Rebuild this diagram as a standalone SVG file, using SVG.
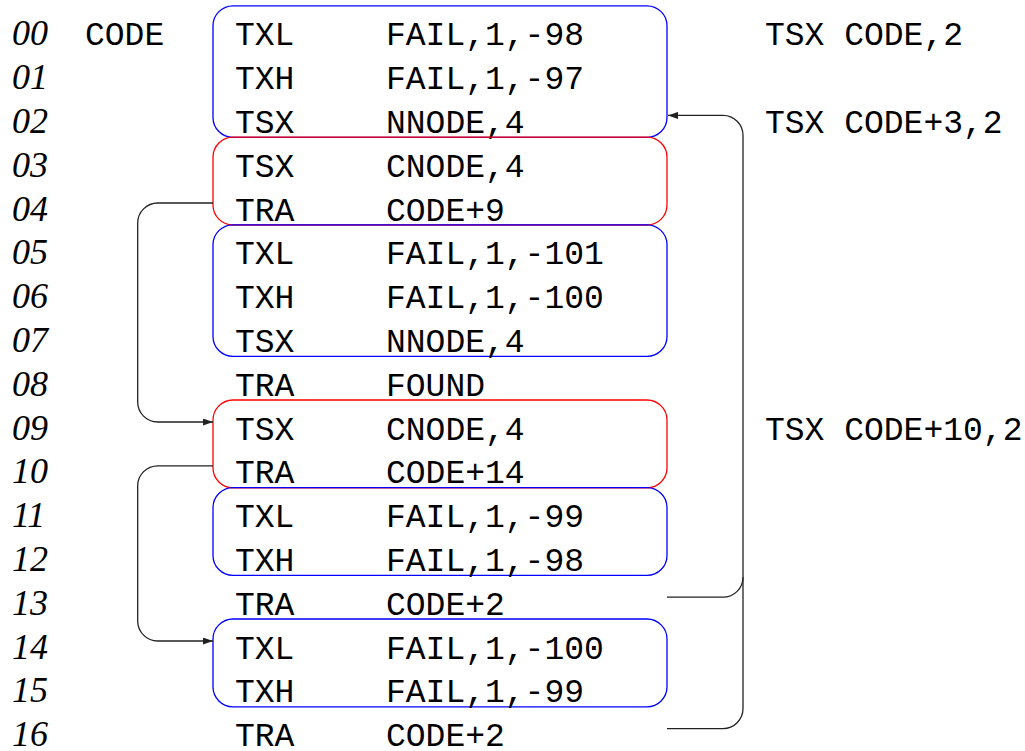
<svg xmlns="http://www.w3.org/2000/svg" width="1025" height="751" viewBox="0 0 1025 751">
  <style>
    .num { font-family: "Liberation Serif", serif; font-style: italic; font-size: 36px; fill: #000; }
    .tt { font-family: "Liberation Mono", monospace; font-size: 33px; fill: #000; }
    .blue { fill: none; stroke: #0000ff; stroke-width: 1.3; }
    .red { fill: none; stroke: #ff0000; stroke-width: 1.3; }
    .link { fill: none; stroke: #222; stroke-width: 1.3; }
  </style>
  <defs>
    <marker id="arrow" markerUnits="userSpaceOnUse" markerWidth="10" markerHeight="7" refX="10" refY="3.5" orient="auto">
      <path d="M0,0 L10,3.5 L0,7 z" fill="#222"/>
    </marker>
  </defs>
  <rect width="1025" height="751" fill="#fff"/>

  <!-- line numbers -->
  <g id="line-numbers" class="num">
    <text x="12" y="45.3">00</text>
    <text x="12" y="89.1">01</text>
    <text x="12" y="132.9">02</text>
    <text x="12" y="176.7">03</text>
    <text x="12" y="220.5">04</text>
    <text x="12" y="264.3">05</text>
    <text x="12" y="308.1">06</text>
    <text x="12" y="351.9">07</text>
    <text x="12" y="395.7">08</text>
    <text x="12" y="439.5">09</text>
    <text x="12" y="483.3">10</text>
    <text x="12" y="527.1">11</text>
    <text x="12" y="570.9">12</text>
    <text x="12" y="614.7">13</text>
    <text x="12" y="658.5">14</text>
    <text x="12" y="702.3">15</text>
    <text x="12" y="746">16</text>
  </g>

  <!-- label -->
  <g id="label-code" class="tt">
    <text x="85" y="45.3">CODE</text>
  </g>

  <!-- block 00-02 -->
  <g id="block-00">
    <rect class="blue" x="213" y="5.8" width="454" height="131.6" rx="20"/>
    <g class="tt">
      <text x="235" y="45.3">TXL</text><text x="386" y="45.3">FAIL,1,-98</text>
      <text x="235" y="89.1">TXH</text><text x="386" y="89.1">FAIL,1,-97</text>
      <text x="235" y="132.9">TSX</text><text x="386" y="132.9">NNODE,4</text>
    </g>
  </g>

  <!-- block 03-04 -->
  <g id="block-03">
    <rect class="red" x="213" y="137.2" width="454" height="87.8" rx="20"/>
    <g class="tt">
      <text x="235" y="176.7">TSX</text><text x="386" y="176.7">CNODE,4</text>
      <text x="235" y="220.5">TRA</text><text x="386" y="220.5">CODE+9</text>
    </g>
  </g>

  <!-- block 05-07 -->
  <g id="block-05">
    <rect class="blue" x="213" y="224.8" width="454" height="131.6" rx="20"/>
    <g class="tt">
      <text x="235" y="264.3">TXL</text><text x="386" y="264.3">FAIL,1,-101</text>
      <text x="235" y="308.1">TXH</text><text x="386" y="308.1">FAIL,1,-100</text>
      <text x="235" y="351.9">TSX</text><text x="386" y="351.9">NNODE,4</text>
    </g>
  </g>

  <!-- line 08 -->
  <g id="line-08" class="tt">
    <text x="235" y="395.7">TRA</text><text x="386" y="395.7">FOUND</text>
  </g>

  <!-- block 09-10 -->
  <g id="block-09">
    <rect class="red" x="213" y="400" width="454" height="87.8" rx="20"/>
    <g class="tt">
      <text x="235" y="439.5">TSX</text><text x="386" y="439.5">CNODE,4</text>
      <text x="235" y="483.3">TRA</text><text x="386" y="483.3">CODE+14</text>
    </g>
  </g>

  <!-- block 11-12 -->
  <g id="block-11">
    <rect class="blue" x="213" y="487.6" width="454" height="87.8" rx="20"/>
    <g class="tt">
      <text x="235" y="527.1">TXL</text><text x="386" y="527.1">FAIL,1,-99</text>
      <text x="235" y="570.9">TXH</text><text x="386" y="570.9">FAIL,1,-98</text>
    </g>
  </g>

  <!-- line 13 -->
  <g id="line-13" class="tt">
    <text x="235" y="614.7">TRA</text><text x="386" y="614.7">CODE+2</text>
  </g>

  <!-- block 14-15 -->
  <g id="block-14">
    <rect class="blue" x="213" y="619" width="454" height="87.8" rx="20"/>
    <g class="tt">
      <text x="235" y="658.5">TXL</text><text x="386" y="658.5">FAIL,1,-100</text>
      <text x="235" y="702.3">TXH</text><text x="386" y="702.3">FAIL,1,-99</text>
    </g>
  </g>

  <!-- line 16 -->
  <g id="line-16" class="tt">
    <text x="235" y="746">TRA</text><text x="386" y="746">CODE+2</text>
  </g>

  <!-- right-hand annotations -->
  <g id="notes" class="tt">
    <text x="765" y="45.3">TSX CODE,2</text>
    <text x="765" y="132.9">TSX CODE+3,2</text>
    <text x="765" y="439.5">TSX CODE+10,2</text>
  </g>

  <!-- jumps -->
  <g id="connectors" class="link">
    <path d="M213,203 H157.7 A20,20 0 0 0 137.7,223 V402 A20,20 0 0 0 157.7,422 H213" marker-end="url(#arrow)"/>
    <path d="M213,465.8 H157.7 A20,20 0 0 0 137.7,485.8 V621 A20,20 0 0 0 157.7,641 H213" marker-end="url(#arrow)"/>
    <path d="M667,597.2 H723 A20,20 0 0 0 743,577.2 V135.4 A20,20 0 0 0 723,115.4 H668" marker-end="url(#arrow)"/>
    <path d="M667,728.6 H723 A20,20 0 0 0 743,708.6 V577.2"/>
  </g>
</svg>
